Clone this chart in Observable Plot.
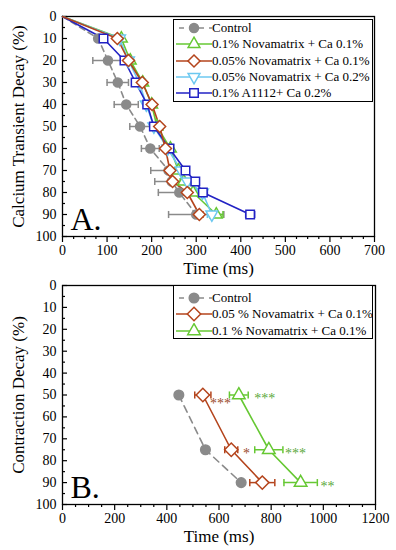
<!DOCTYPE html>
<html><head><meta charset="utf-8">
<script src="https://cdn.jsdelivr.net/npm/d3@7"></script>
<script src="https://cdn.jsdelivr.net/npm/@observablehq/plot@0.6"></script>
<style>
body{margin:0;background:#fff;}
#wrap{position:relative;width:396px;height:550px;font-family:"Liberation Serif","Times New Roman",Times,"DejaVu Serif",serif;background:#fff;overflow:hidden;}
.panel{position:absolute;left:0;}
.legend{position:absolute;border:1.3px solid #000;background:#fff;box-sizing:border-box;font-size:13px;padding-left:2px;}
.row{display:flex;align-items:center;height:16.3px;white-space:nowrap;}
.row svg{flex:none;}
</style></head><body><div id="wrap"></div>
<script>
const FONT = '"Liberation Serif","Times New Roman",Times,"DejaVu Serif",serif';
// ---------- Panel A data ----------
const levelsA = [0,10,20,30,40,50,60,70,75,80,90];
const seriesA = ["Control","0.1% Novamatrix + Ca 0.1%","0.05% Novamatrix + Ca 0.1%","0.05% Novamatrix + Ca 0.2%","0.1% A1112+ Ca 0.2%"];
const controlA      = [0,80,102,124,143,174,197,238,245,262,300];
const controlAErr   = [0,5,34,24,27,23,20,40,38,47,62];
const nova01Ca01A   = [0,132,152,180,200,212,242,260,272,293,345];
const nova01Ca01AErr= [0,6,6,6,6,6,7,8,8,8,15];
const nova005Ca01A  = [0,123,148,179,201,218,231,241,247,280,307];
const nova005Ca01AErr=[0,5,5,5,5,6,6,6,6,7,8];
const nova005Ca02A  = [0,128,148,172,188,205,236,266,280,314,335];
const nova005Ca02AErr=[0,6,6,6,6,6,7,8,8,8,10];
const a1112Ca02A    = [0,92,139,164,190,205,240,276,298,315,421];
const a1112Ca02AErr = [0,5,5,5,5,5,6,8,8,10,10];

// ---------- Panel B data ----------
const levelsB = [50,75,90];
const seriesB = ["Control","0.05 % Novamatrix + Ca 0.1%","0.1 % Novamatrix + Ca 0.1%"];
const controlB      = [446,548,685];
const nova005B      = [538,647,766];
const nova005BErr   = [31,25,48];
const nova01B       = [676,791,913];
const nova01BErr    = [36,54,64];
const starLabels    = ["***","*","***","***","**"];
const starTimes     = [606,705,775,893,1016];
const starLevels    = [52,75,50,75,90];
const starSeries    = [1,1,2,2,2];

const colors = {gray:"#8a8a8a", green:"#66c833", brown:"#b4441c", cyan:"#6cc8f0", blue:"#2222c4", starBrown:"#9a4a2a", starGreen:"#5aa83a"};

// custom symbols
const invTriangle = {draw(ctx,size){const s=Math.sqrt(size)*0.6824,t=s/2,u=s*Math.sqrt(3)/2;ctx.moveTo(0,s);ctx.lineTo(u,-t);ctx.lineTo(-u,-t);ctx.closePath();}};
const vbar = {draw(ctx,size){const h=Math.sqrt(size)/2;ctx.moveTo(0,-h);ctx.lineTo(0,h);}};

function rows(levels, values, errs, series){
  return levels.map((y,i)=>({series, y, t:values[i], err: errs ? errs[i] : 0}));
}

const specA = [
  {data: rows(levelsA, controlA, controlAErr, seriesA[0]), color: colors.gray, symbol:"circle", fill: colors.gray, r:4.5, dash:"6,4"},
  {data: rows(levelsA, nova01Ca01A, nova01Ca01AErr, seriesA[1]), color: colors.green, symbol:"triangle2", fill:"white", r:5.6},
  {data: rows(levelsA, nova005Ca02A, nova005Ca02AErr, seriesA[3]), color: colors.cyan, symbol: invTriangle, fill:"white", r:5.6},
  {data: rows(levelsA, a1112Ca02A, a1112Ca02AErr, seriesA[4]), color: colors.blue, symbol:"square2", fill:"white", r:5.4},
  {data: rows(levelsA, nova005Ca01A, nova005Ca01AErr, seriesA[2]), color: colors.brown, symbol:"diamond2", fill:"white", r:5.4},
];

const specB = [
  {data: rows(levelsB, controlB, null, seriesB[0]), color: colors.gray, symbol:"circle", fill: colors.gray, r:4.8, dash:"7,5"},
  {data: rows(levelsB, nova005B, nova005BErr, seriesB[1]), color: colors.brown, symbol:"diamond2", fill:"white", r:6},
  {data: rows(levelsB, nova01B, nova01BErr, seriesB[2]), color: colors.green, symbol:"triangle2", fill:"white", r:6},
];

function seriesMarks(spec){
  const marks = [];
  for (const s of spec){
    marks.push(Plot.line(s.data, {x:"t", y:"y", stroke:s.color, strokeWidth:1.6, strokeDasharray:s.dash || null}));
  }
  for (const s of spec){
    const e = s.data.filter(d=>d.err>0);
    marks.push(Plot.ruleY(e, {y:"y", x1:d=>d.t-d.err, x2:d=>d.t+d.err, stroke:s.color, strokeWidth:1.5}));
    marks.push(Plot.dot(e, {x:d=>d.t-d.err, y:"y", symbol:vbar, r:4, stroke:s.color, strokeWidth:1.5}));
    marks.push(Plot.dot(e, {x:d=>d.t+d.err, y:"y", symbol:vbar, r:4, stroke:s.color, strokeWidth:1.5}));
  }
  for (const s of spec){
    marks.push(Plot.dot(s.data.filter(d=>d.y>0), {x:"t", y:"y", symbol:s.symbol, r:s.r, fill:s.fill, stroke:s.color, strokeWidth:1.5}));
  }
  return marks;
}

function axes(xMajor, xMinor, yLabel, xLabel, letter){
  return [
    Plot.axisY({ticks:d3.range(0,101,10), tickSize:0, tickPadding:6, label:null, fontSize:14}),
    Plot.axisY({ticks:d3.range(0,101,10), tickSize:-5, text:null, label:null, strokeWidth:1.2}),
    Plot.axisY({ticks:d3.range(5,100,10), tickSize:-3, text:null, label:null, strokeWidth:1.2}),
    Plot.axisX({ticks:xMajor, tickSize:6, tickPadding:3, tickFormat:d=>String(d), label:null, fontSize:14, strokeWidth:1.2}),
    Plot.axisX({ticks:xMinor, tickSize:3, text:null, label:null, strokeWidth:1.2}),
    Plot.frame({stroke:"#000", strokeWidth:1.3}),
    Plot.text([yLabel], {frameAnchor:"left", textAnchor:"middle", rotate:-90, dx:-44, fontSize:17}),
    Plot.text([xLabel], {frameAnchor:"bottom", textAnchor:"middle", lineAnchor:"middle", dy:32, fontSize:17}),
    Plot.text([letter], {frameAnchor:"bottom-left", textAnchor:"start", dx:8, dy:-7, fontSize:32}),
  ];
}

const wrap = document.getElementById("wrap");

const plotA = Plot.plot({
  width:396, height:278, marginLeft:62, marginRight:22, marginTop:16, marginBottom:42,
  style:{fontFamily:FONT, fontSize:"14px", color:"#000", background:"transparent"},
  x:{domain:[0,700]},
  y:{domain:[0,100], reverse:true},
  marks:[
    ...axes(d3.range(0,701,100), d3.range(0,701,25).filter(v=>v%100), "Calcium Transient Decay (%)", "Time (ms)", "A."),
    ...seriesMarks(specA),
  ]
});
const divA = document.createElement("div"); divA.className="panel"; divA.style.top="0px"; divA.appendChild(plotA); wrap.appendChild(divA);

const stars = starLabels.map((l,i)=>({label:l, t:starTimes[i], y:starLevels[i], color: starSeries[i]===1 ? colors.starBrown : colors.starGreen}));

const plotB = Plot.plot({
  width:396, height:272, marginLeft:62, marginRight:21, marginTop:7, marginBottom:46,
  style:{fontFamily:FONT, fontSize:"14px", color:"#000", background:"transparent"},
  x:{domain:[0,1200]},
  y:{domain:[0,100], reverse:true},
  marks:[
    ...axes(d3.range(0,1201,200), d3.range(0,1201,50).filter(v=>v%200), "Contraction Decay (%)", "Time (ms)", "B."),
    ...seriesMarks(specB),
    Plot.text(stars, {x:"t", y:"y", text:"label", fill:"color", fontSize:14, dy:4}),
  ]
});
const divB = document.createElement("div"); divB.className="panel"; divB.style.top="278px"; divB.appendChild(plotB); wrap.appendChild(divB);

// ---------- legends ----------
function sampleSvg(s){
  const sym = typeof s.symbol === "string" ? d3.symbol(({circle:d3.symbolCircle, triangle2:d3.symbolTriangle2, diamond2:d3.symbolDiamond2, square2:d3.symbolSquare2})[s.symbol], Math.PI*s.r*s.r)() : d3.symbol(s.symbol, Math.PI*s.r*s.r)();
  const dash = s.dash ? `stroke-dasharray="5,5"` : "";
  const x1 = s.dash ? 3 : 0;
  return `<svg width="36" height="16"><line x1="${x1}" x2="36" y1="8" y2="8" stroke="${s.color}" stroke-width="1.6" ${dash}/><path transform="translate(18,8)" d="${sym}" fill="${s.fill}" stroke="${s.color}" stroke-width="1.5"/></svg>`;
}
function legend(items, left, top, width, height, padTop){
  const el = document.createElement("div");
  el.className = "legend";
  Object.assign(el.style, {left:left+"px", top:top+"px", width:width+"px", height:height+"px", paddingTop:padTop+"px"});
  el.innerHTML = items.map(({spec,label})=>`<div class="row">${sampleSvg(spec)}<span>${label}</span></div>`).join("");
  wrap.appendChild(el);
}
legend([
  {spec:specA[0], label:seriesA[0]},
  {spec:specA[1], label:seriesA[1]},
  {spec:specA[4], label:seriesA[2]},
  {spec:specA[2], label:seriesA[3]},
  {spec:specA[3], label:seriesA[4]},
], 173, 19, 200, 83, 0);
legend([
  {spec:specB[0], label:seriesB[0]},
  {spec:specB[1], label:seriesB[1]},
  {spec:specB[2], label:seriesB[2]},
], 173, 285, 200, 54, 4);
</script></body></html>
